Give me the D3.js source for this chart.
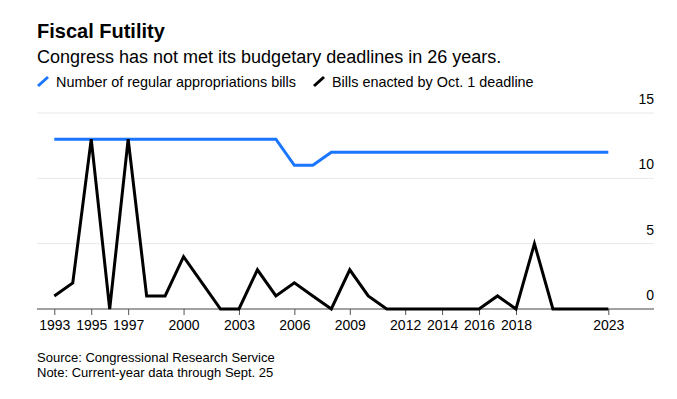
<!DOCTYPE html>
<html>
<head>
<meta charset="utf-8">
<script src="https://cdn.jsdelivr.net/npm/d3@7"></script>
<style>
  body { margin: 0; background: #fff; }
  text { font-family: "Liberation Sans", Arial, sans-serif; }
</style>
</head>
<body>
<script>
// data
const years = d3.range(1993, 2024)
const regularBills = [13,13,13,13,13,13,13,13,13,13,13,13,13,11,11,12,12,12,12,12,12,12,12,12,12,12,12,12,12,12,12]
const enactedOnTime = [1,2,13,0,13,1,1,4,2,0,0,3,1,2,1,0,3,1,0,0,0,0,0,0,1,0,5,0,0,0,0]
const tickYears = [1993,1995,1997,2000,2003,2006,2009,2012,2014,2016,2018,2023]
const yTicks = [0,5,10,15]

const W = 677, H = 399
const blue = "#1a75ff"

let svg = d3.select("body").append("svg")
    .attr("width", W)
    .attr("height", H)

let x = d3.scaleLinear().domain([1993, 2023]).range([54.3, 608.3])
let y = d3.scaleLinear().domain([0, 15]).range([309, 113])

// titles
svg.append("text")
    .attr("x", 37).attr("y", 38)
    .style("font-size", "20px").style("font-weight", "bold")
    .style("fill", "#000")
    .text("Fiscal Futility")

svg.append("text")
    .attr("x", 37).attr("y", 63)
    .style("font-size", "18px")
    .style("fill", "#000")
    .text("Congress has not met its budgetary deadlines in 26 years.")

// legend
let legend = [
    {label: "Number of regular appropriations bills", color: blue, x: 37},
    {label: "Bills enacted by Oct. 1 deadline", color: "#000", x: 313}
]
legend.forEach(function(d){
    svg.append("line")
        .attr("x1", d.x + 1).attr("y1", 86)
        .attr("x2", d.x + 11).attr("y2", 77)
        .attr("stroke", d.color).attr("stroke-width", 3)
    svg.append("text")
        .attr("x", d.x + 19).attr("y", 87)
        .style("font-size", "14.4px")
        .style("fill", "#000")
        .text(d.label)
})

// grid
svg.selectAll(".grid")
    .data(yTicks.filter(d => d > 0))
    .enter().append("line")
    .attr("x1", 37).attr("x2", 654)
    .attr("y1", d => y(d)).attr("y2", d => y(d))
    .attr("stroke", "#e8e8e8").attr("stroke-width", 1)

svg.selectAll(".ylab")
    .data(yTicks)
    .enter().append("text")
    .attr("x", 654)
    .attr("y", d => y(d) - 9)
    .attr("text-anchor", "end")
    .style("font-size", "14px")
    .style("fill", "#000")
    .text(d => d)

// x axis
let xAxis = d3.axisBottom(x)
    .tickValues(tickYears)
    .tickFormat(d3.format("d"))
    .tickSize(6)
    .tickPadding(5)

let gx = svg.append("g")
    .attr("transform", "translate(0," + y(0) + ")")
    .call(xAxis)
gx.select(".domain").remove()
gx.selectAll(".tick line").attr("stroke", "#555")
gx.selectAll(".tick text")
    .style("font-size", "14px")
    .style("font-family", "'Liberation Sans', Arial, sans-serif")
    .attr("fill", "#000")

svg.append("line")
    .attr("x1", 37).attr("x2", 654)
    .attr("y1", y(0)).attr("y2", y(0))
    .attr("stroke", "#444").attr("stroke-width", 1)

// lines
let line = d3.line()
    .x((d, i) => x(years[i]))
    .y(d => y(d))

svg.append("path")
    .datum(regularBills)
    .attr("d", line)
    .attr("fill", "none")
    .attr("stroke", blue)
    .attr("stroke-width", 3)

svg.append("path")
    .datum(enactedOnTime)
    .attr("d", line)
    .attr("fill", "none")
    .attr("stroke", "#000")
    .attr("stroke-width", 3)

// footer
svg.append("text")
    .attr("x", 37).attr("y", 362)
    .style("font-size", "13px")
    .style("fill", "#000")
    .text("Source: Congressional Research Service")

svg.append("text")
    .attr("x", 37).attr("y", 377)
    .style("font-size", "13px")
    .style("fill", "#000")
    .text("Note: Current-year data through Sept. 25")
</script>
</body>
</html>
